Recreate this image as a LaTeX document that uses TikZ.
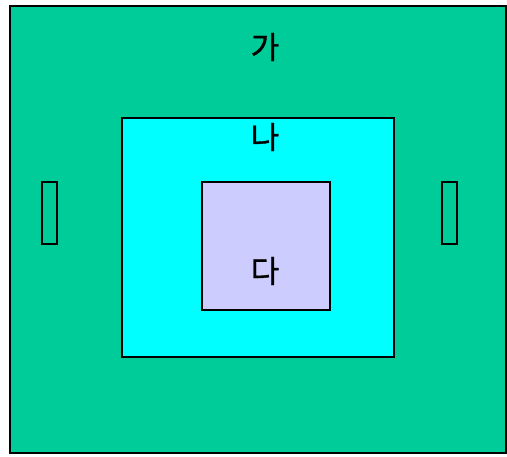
\documentclass[tikz,border=0pt]{standalone}
\usepackage{fontspec}
\newfontfamily\kr[FakeBold=1.2]{Noto Sans CJK KR}
\definecolor{outerg}{HTML}{00CC99}
\definecolor{midc}{HTML}{00FFFF}
\definecolor{innerl}{HTML}{CCCCFF}
\begin{document}
\begin{tikzpicture}[x=1pt,y=-1pt,
  box/.style={draw=black,line width=1.2pt},
  lbl/.style={font=\kr\fontsize{31}{34}\selectfont,inner sep=0pt,anchor=center},
  tofu/.style={draw=black,line width=2pt}]
\useasboundingbox (0,0) rectangle (507,457);
\path[box,fill=outerg] (10,6) rectangle (506,453);
\path[box,fill=midc] (122,118) rectangle (394,357);
\path[box,fill=innerl] (202,182) rectangle (330,310);
\node[lbl] (ga) at (265,47) {가};
\node[lbl] (na) at (265,137) {나};
\node[lbl] (da) at (265,271) {다};
\path[tofu] (42,182) rectangle (57,244);
\path[tofu] (442,182) rectangle (457,244);
\end{tikzpicture}
\end{document}
